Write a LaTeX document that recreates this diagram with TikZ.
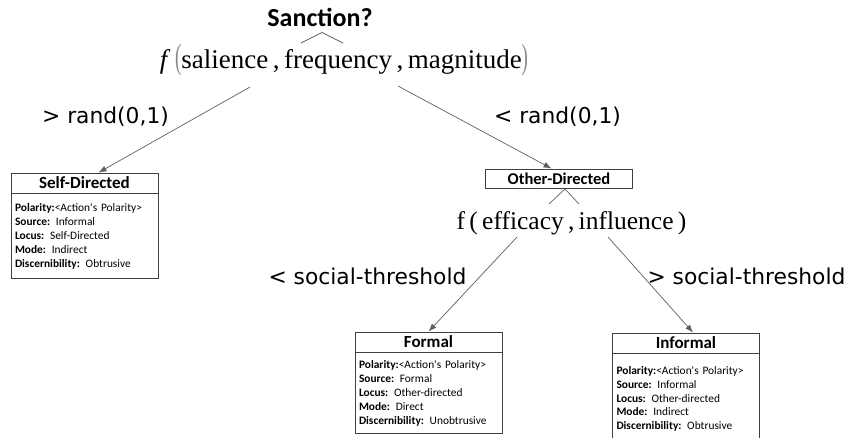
\documentclass[tikz,border=0pt]{standalone}
\usepackage{fontspec}
\usetikzlibrary{arrows.meta,calc}
\newfontfamily\boxfont{Carlito}
\newfontfamily\labelfont{DejaVu Sans}
\newfontfamily\formulafont{Liberation Serif}
\definecolor{boxline}{HTML}{404040}
\definecolor{wire}{HTML}{606060}
\definecolor{paren}{HTML}{8A8A8A}
\tikzset{
  title/.style={font=\boxfont\bfseries\fontsize{26}{30}\selectfont, inner sep=0pt, anchor=base},
  formula/.style={font=\formulafont\fontsize{27}{30}\selectfont, inner sep=0pt, anchor=base},
  branch/.style={font=\labelfont\fontsize{21.8}{24}\selectfont, inner sep=0pt, anchor=base},
  header/.style={draw=boxline, line width=0.9pt, minimum width=147pt, minimum height=20pt,
    inner sep=0pt, font=\boxfont\bfseries\fontsize{17}{19}\selectfont},
  body/.style={draw=boxline, line width=0.9pt, minimum width=147pt, text width=139pt,
    inner sep=4pt, align=left, anchor=north, font=\boxfont\fontsize{11.4}{13.8}\selectfont},
  wireline/.style={draw=wire, line width=0.7pt},
  arrowline/.style={wireline, -{Latex[length=8pt,width=6pt]}},
}
\newcommand{\fld}[2]{\textbf{#1}#2}
\begin{document}
\begin{tikzpicture}[x=1pt,y=-1pt]
\useasboundingbox[fill=white] (0,0) rectangle (848,437);
\clip (0,0) rectangle (848,437);

% root question and its decision function
\node[title] (sanction) at (320,26) {Sanction?};
\node[formula] (f1) at (344,68) {\textit{f}\,{\color{paren}\scalebox{0.7}[1.3]{(}}salience\,,\,frequency\,,\,magnitude{\color{paren}\scalebox{0.7}[1.3]{)}}};
\coordinate (c1l) at (301,43);
\coordinate (c1p) at (322,32.5);
\coordinate (c1r) at (343,43);
\draw[wireline] (c1l) -- (c1p) -- (c1r);

% first split
\node[branch] (lowrand) at (105.5,123) {> rand(0,1)};
\node[branch] (highrand) at (557.5,123) {< rand(0,1)};

% self-directed sanction
\node[header] (selfhead) at (84.5,183) {Self-Directed};
\node[body, minimum height=85pt] (selfbody) at (selfhead.south) {%
\fld{Polarity:}{<Action's Polarity>}\\
\fld{Source:}{ Informal}\\
\fld{Locus:}{ Self-Directed}\\
\fld{Mode:}{ Indirect}\\
\fld{Discernibility:}{ Obtrusive}};

% other-directed sanction and its decision function
\node[header, font=\boxfont\bfseries\fontsize{16.5}{18}\selectfont, minimum height=19pt] (otherhead) at (559,178.5) {Other-Directed};
\node[formula, font=\formulafont\fontsize{25.5}{30}\selectfont] (f2) at (571.5,229) {f\,(\,efficacy\,,\,influence\,)};
\coordinate (c2l) at (549,204);
\coordinate (c2p) at (565,189);
\coordinate (c2r) at (579,204);
\draw[wireline] (c2l) -- (c2p) -- (c2r);

\coordinate (f1a) at (250,87);
\coordinate (f1b) at (398,86);
\draw[arrowline] (f1a) -- ($(selfhead.north west)+(88,0)$);
\draw[arrowline] (f1b) -- ($(otherhead.north west)+(66.5,0)$);

% second split
\node[branch] (lowsoc) at (367.5,284) {< social-threshold};
\node[branch] (highsoc) at (746.5,284) {> social-threshold};

\node[header] (formalhead) at (428.5,342) {Formal};
\node[body, minimum height=81pt] (formalbody) at (formalhead.south) {%
\fld{Polarity:}{<Action's Polarity>}\\
\fld{Source:}{ Formal}\\
\fld{Locus:}{ Other-directed}\\
\fld{Mode:}{ Direct}\\
\fld{Discernibility:}{ Unobtrusive}};

\node[header] (informalhead) at (686,343) {Informal};
\node[body, minimum height=90pt] (informalbody) at (informalhead.south) {%
\fld{Polarity:}{<Action's Polarity>}\\
\fld{Source:}{ Informal}\\
\fld{Locus:}{ Other-directed}\\
\fld{Mode:}{ Indirect}\\
\fld{Discernibility:}{ Obtrusive}};

\coordinate (f2a) at (517,237);
\coordinate (f2b) at (608,237);
\draw[arrowline] (f2a) -- ($(formalhead.north west)+(74,0)$);
\draw[arrowline] (f2b) -- ($(informalhead.north west)+(81,0)$);
\end{tikzpicture}
\end{document}
